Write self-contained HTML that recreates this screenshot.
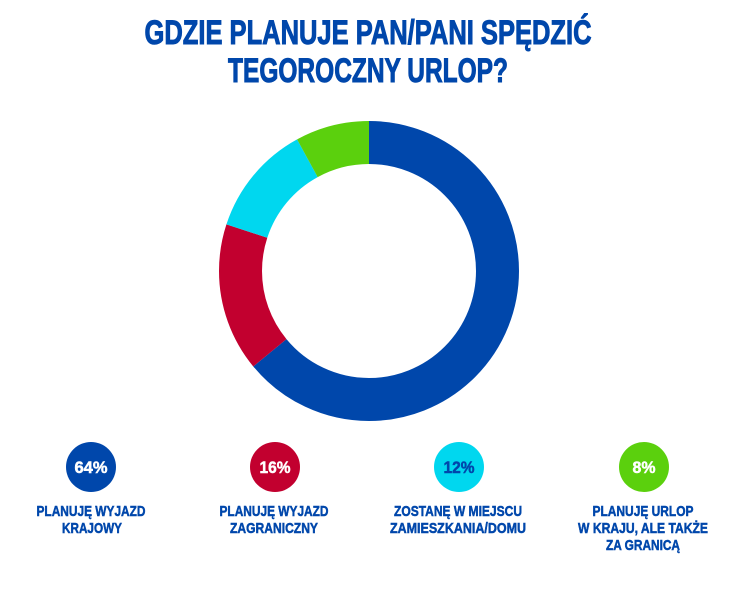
<!DOCTYPE html>
<html><head><meta charset="utf-8"><style>
html,body{margin:0;padding:0;background:#fff;width:752px;height:608px;overflow:hidden}
svg text{font-family:"Liberation Sans",sans-serif;font-weight:bold;text-anchor:middle}
</style></head><body>
<svg width="752" height="608" viewBox="0 0 752 608" xmlns="http://www.w3.org/2000/svg">
<g fill="#0047AB" stroke="#0047AB" stroke-width="1">
<text x="368" y="44" font-size="34" textLength="447" lengthAdjust="spacingAndGlyphs">GDZIE PLANUJE PAN/PANI SPĘDZIĆ</text>
<text x="368" y="82" font-size="34" textLength="280" lengthAdjust="spacingAndGlyphs">TEGOROCZNY URLOP?</text>
</g>
<g transform="rotate(-90 369 271)" fill="none" stroke-width="43">
<circle cx="369" cy="271" r="128.5" stroke="#0047AB" stroke-dasharray="516.7 1000"/>
<circle cx="369" cy="271" r="128.5" stroke="#C2002F" stroke-dasharray="0 516.7 129.2 1000"/>
<circle cx="369" cy="271" r="128.5" stroke="#00D7EF" stroke-dasharray="0 645.9 96.9 1000"/>
<circle cx="369" cy="271" r="128.5" stroke="#5BD00D" stroke-dasharray="0 742.8 64.6 1000"/>
</g>
<circle cx="91" cy="467" r="25" fill="#0047AB"/>
<circle cx="275" cy="467" r="25" fill="#C2002F"/>
<circle cx="459" cy="467" r="25" fill="#00D7EF"/>
<circle cx="644" cy="467" r="25" fill="#5BD00D"/>
<g font-size="17" stroke-width="0.5">
<text x="91" y="473" fill="#fff" stroke="#fff" textLength="33" lengthAdjust="spacingAndGlyphs">64%</text>
<text x="275" y="473" fill="#fff" stroke="#fff" textLength="31" lengthAdjust="spacingAndGlyphs">16%</text>
<text x="459" y="473" fill="#0047AB" stroke="#0047AB" textLength="31" lengthAdjust="spacingAndGlyphs">12%</text>
<text x="644" y="473" fill="#fff" stroke="#fff" textLength="23" lengthAdjust="spacingAndGlyphs">8%</text>
</g>
<g font-size="15" fill="#0047AB" stroke="#0047AB" stroke-width="0.5">
<text x="91" y="516" textLength="109" lengthAdjust="spacingAndGlyphs">PLANUJĘ WYJAZD</text>
<text x="92" y="533" textLength="60" lengthAdjust="spacingAndGlyphs">KRAJOWY</text>
<text x="274" y="516" textLength="109" lengthAdjust="spacingAndGlyphs">PLANUJĘ WYJAZD</text>
<text x="274" y="533" textLength="88" lengthAdjust="spacingAndGlyphs">ZAGRANICZNY</text>
<text x="458" y="516" textLength="128" lengthAdjust="spacingAndGlyphs">ZOSTANĘ W MIEJSCU</text>
<text x="458" y="533" textLength="136" lengthAdjust="spacingAndGlyphs">ZAMIESZKANIA/DOMU</text>
<text x="643" y="516" textLength="101" lengthAdjust="spacingAndGlyphs">PLANUJĘ URLOP</text>
<text x="643" y="533" textLength="130" lengthAdjust="spacingAndGlyphs">W KRAJU, ALE TAKŻE</text>
<text x="643" y="550" textLength="74" lengthAdjust="spacingAndGlyphs">ZA GRANICĄ</text>
</g>
</svg>
</body></html>
